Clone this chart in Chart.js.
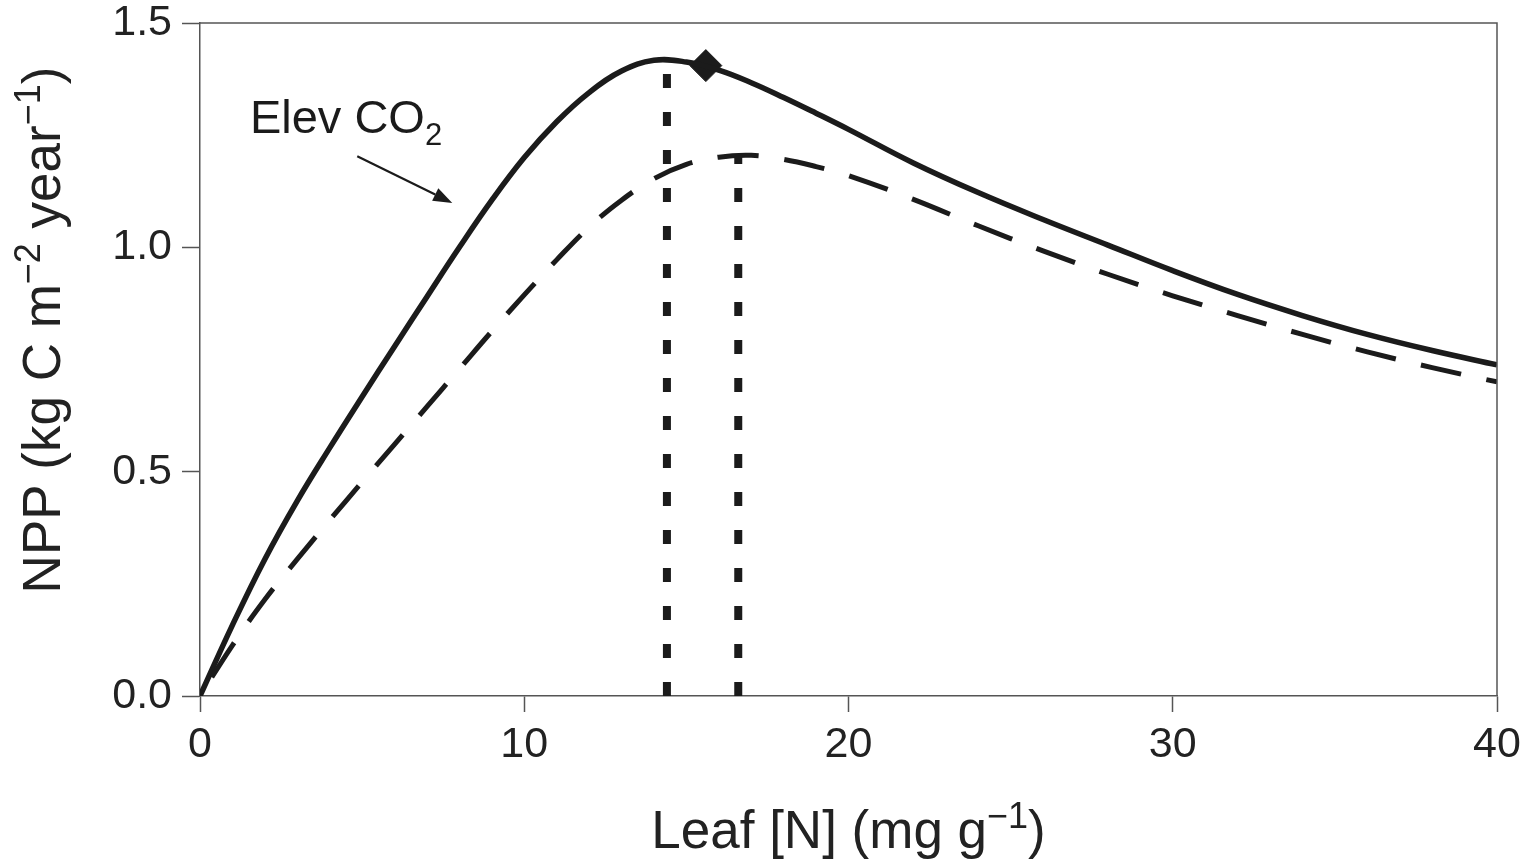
<!DOCTYPE html>
<html>
<head>
<meta charset="utf-8">
<script src="https://cdn.jsdelivr.net/npm/chart.js@4.4.0/dist/chart.umd.min.js"></script>
<style>
  html, body { margin: 0; padding: 0; background: #fff; }
  #wrap { width: 1532px; height: 861px; }
</style>
</head>
<body>
<div id="wrap"><canvas id="chart"></canvas></div>
<script>
// leaf N (mg/g) sampled along both curves
const leafN = [0, 1, 2, 3, 4, 5, 6, 7, 8, 9, 10, 11, 12, 13, 14, 15, 16, 17, 18, 19, 20,
  22, 24, 26, 28, 30, 32, 34, 36, 38, 40];
// NPP, elevated CO2 (solid)
const nppElevated = [0, 0.158, 0.305, 0.435, 0.553, 0.667, 0.779, 0.89, 1.0, 1.105, 1.2, 1.28, 1.345, 1.393, 1.417, 1.413, 1.395, 1.367, 1.334, 1.299, 1.263,
  1.188, 1.122, 1.062, 1.005, 0.948, 0.895, 0.848, 0.806, 0.77, 0.738];
// NPP, ambient CO2 (dashed)
const nppAmbient = [0, 0.113, 0.215, 0.305, 0.392, 0.477, 0.561, 0.645, 0.729, 0.813, 0.894, 0.972, 1.045, 1.105, 1.153, 1.185, 1.201, 1.205, 1.196, 1.18, 1.16,
  1.107, 1.048, 0.992, 0.94, 0.892, 0.848, 0.806, 0.767, 0.732, 0.7];

// optimum leaf N for each curve (dotted drop lines)
const optimumN = [14.4, 16.6];
const optimumNPP = [1.39, 1.205];

// diamond marker on the elevated curve
const markerN = [15.6];
const markerNPP = [1.405];

const xTicks = [0, 10, 20, 30, 40];
const yTicks = [0, 0.5, 1.0, 1.5];

const ink = '#1b1b1b';
const axisGrey = '#555';
const fontFamily = "'Liberation Sans', Arial, Helvetica, sans-serif";

function pts(xs, ys) {
  return xs.map((v, i) => ({ x: v, y: ys[i] }));
}

// draws text with super/subscript parts
function richText(ctx, parts, x, y, align) {
  let w = 0;
  for (const p of parts) {
    ctx.font = `${p.size}px ${fontFamily}`;
    w += ctx.measureText(p.t).width;
  }
  let cx = align === 'center' ? x - w / 2 : x;
  for (const p of parts) {
    ctx.font = `${p.size}px ${fontFamily}`;
    ctx.fillText(p.t, cx, y + (p.dy || 0));
    cx += ctx.measureText(p.t).width;
  }
}

const annotate = {
  id: 'annotate',
  afterDraw(chart) {
    const { ctx, chartArea: a, scales: { x, y } } = chart;
    ctx.save();

    // top and right frame
    ctx.strokeStyle = axisGrey;
    ctx.lineWidth = 1.5;
    ctx.beginPath();
    ctx.moveTo(a.left, a.top);
    ctx.lineTo(a.right, a.top);
    ctx.lineTo(a.right, a.bottom);
    ctx.stroke();

    ctx.fillStyle = ink;
    ctx.textBaseline = 'alphabetic';
    ctx.textAlign = 'left';

    // label + arrow
    richText(ctx, [
      { t: 'Elev CO', size: 47 },
      { t: '2', size: 31, dy: 12 },
    ], x.getPixelForValue(1.54), y.getPixelForValue(1.255), 'left');

    const x0 = x.getPixelForValue(4.85), y0 = y.getPixelForValue(1.203);
    const x1 = x.getPixelForValue(7.78), y1 = y.getPixelForValue(1.099);
    const ang = Math.atan2(y1 - y0, x1 - x0);
    const hl = 19, hw = 7;
    ctx.strokeStyle = ink;
    ctx.lineWidth = 2.2;
    ctx.beginPath();
    ctx.moveTo(x0, y0);
    ctx.lineTo(x1 - hl * Math.cos(ang), y1 - hl * Math.sin(ang));
    ctx.stroke();
    ctx.beginPath();
    ctx.moveTo(x1, y1);
    ctx.lineTo(x1 - hl * Math.cos(ang) + hw * Math.sin(ang), y1 - hl * Math.sin(ang) - hw * Math.cos(ang));
    ctx.lineTo(x1 - hl * Math.cos(ang) - hw * Math.sin(ang), y1 - hl * Math.sin(ang) + hw * Math.cos(ang));
    ctx.closePath();
    ctx.fill();

    // x axis title
    ctx.fillStyle = '#222';
    richText(ctx, [
      { t: 'Leaf [N] (mg g', size: 53 },
      { t: '\u22121', size: 36, dy: -20 },
      { t: ')', size: 53 },
    ], (a.left + a.right) / 2, 848, 'center');

    // y axis title
    ctx.translate(60, 330);
    ctx.rotate(-Math.PI / 2);
    richText(ctx, [
      { t: 'NPP (kg C m', size: 53 },
      { t: '\u22122', size: 36, dy: -20 },
      { t: ' year', size: 53 },
      { t: '\u22121', size: 36, dy: -20 },
      { t: ')', size: 53 },
    ], 0, 0, 'center');

    ctx.restore();
  }
};

const tickFont = { family: fontFamily, size: 43, lineHeight: 1.0 };

new Chart(document.getElementById('chart'), {
  type: 'scatter',
  data: {
    datasets: [
      {
        label: 'Optimum elevated',
        data: [{ x: optimumN[0], y: 0 }, { x: optimumN[0], y: optimumNPP[0] }],
        showLine: true,
        borderColor: ink,
        borderWidth: 8,
        borderDash: [14, 24],
        borderCapStyle: 'butt',
        pointRadius: 0,
      },
      {
        label: 'Optimum ambient',
        data: [{ x: optimumN[1], y: 0 }, { x: optimumN[1], y: optimumNPP[1] }],
        showLine: true,
        borderColor: ink,
        borderWidth: 8,
        borderDash: [14, 24],
        borderCapStyle: 'butt',
        pointRadius: 0,
      },
      {
        label: 'Ambient CO2',
        data: pts(leafN, nppAmbient),
        showLine: true,
        borderColor: ink,
        borderWidth: 5,
        borderDash: [41, 26],
        borderDashOffset: 45,
        borderCapStyle: 'butt',
        tension: 0.4,
        pointRadius: 0,
      },
      {
        label: 'Elevated CO2',
        data: pts(leafN, nppElevated),
        showLine: true,
        borderColor: ink,
        borderWidth: 5.5,
        tension: 0.4,
        pointRadius: 0,
      },
      {
        label: 'Marker',
        data: pts(markerN, markerNPP),
        pointStyle: 'rectRot',
        pointRadius: 16,
        backgroundColor: ink,
        borderColor: ink,
        borderWidth: 1,
      },
    ],
  },
  options: {
    responsive: true,
    maintainAspectRatio: false,
    animation: false,
    events: [],
    layout: {
      padding: { left: 0, right: 35, top: 23, bottom: 0 },
    },
    plugins: {
      legend: { display: false },
      tooltip: { enabled: false },
    },
    scales: {
      x: {
        type: 'linear',
        min: 0,
        max: 40,
        afterBuildTicks: (s) => { s.ticks = xTicks.map((v) => ({ value: v })); },
        afterFit: (s) => { s.height = 165; s.paddingLeft = 0; s.paddingRight = 0; },
        border: { color: axisGrey, width: 1.5 },
        grid: {
          drawOnChartArea: false,
          drawTicks: true,
          tickLength: 16,
          tickColor: axisGrey,
          tickWidth: 1.5,
        },
        ticks: {
          color: '#222',
          font: tickFont,
          padding: 12,
          maxRotation: 0,
          callback: (v) => String(v),
        },
      },
      y: {
        type: 'linear',
        min: 0,
        max: 1.5,
        afterBuildTicks: (s) => { s.ticks = yTicks.map((v) => ({ value: v })); },
        afterFit: (s) => { s.width = 200; s.paddingTop = 0; s.paddingBottom = 0; },
        border: { color: axisGrey, width: 1.5 },
        grid: {
          drawOnChartArea: false,
          drawTicks: true,
          tickLength: 18,
          tickColor: axisGrey,
          tickWidth: 1.5,
        },
        ticks: {
          color: '#222',
          font: tickFont,
          padding: 10,
          callback: (v) => v.toFixed(1),
        },
      },
    },
  },
  plugins: [annotate],
});
</script>
</body>
</html>
